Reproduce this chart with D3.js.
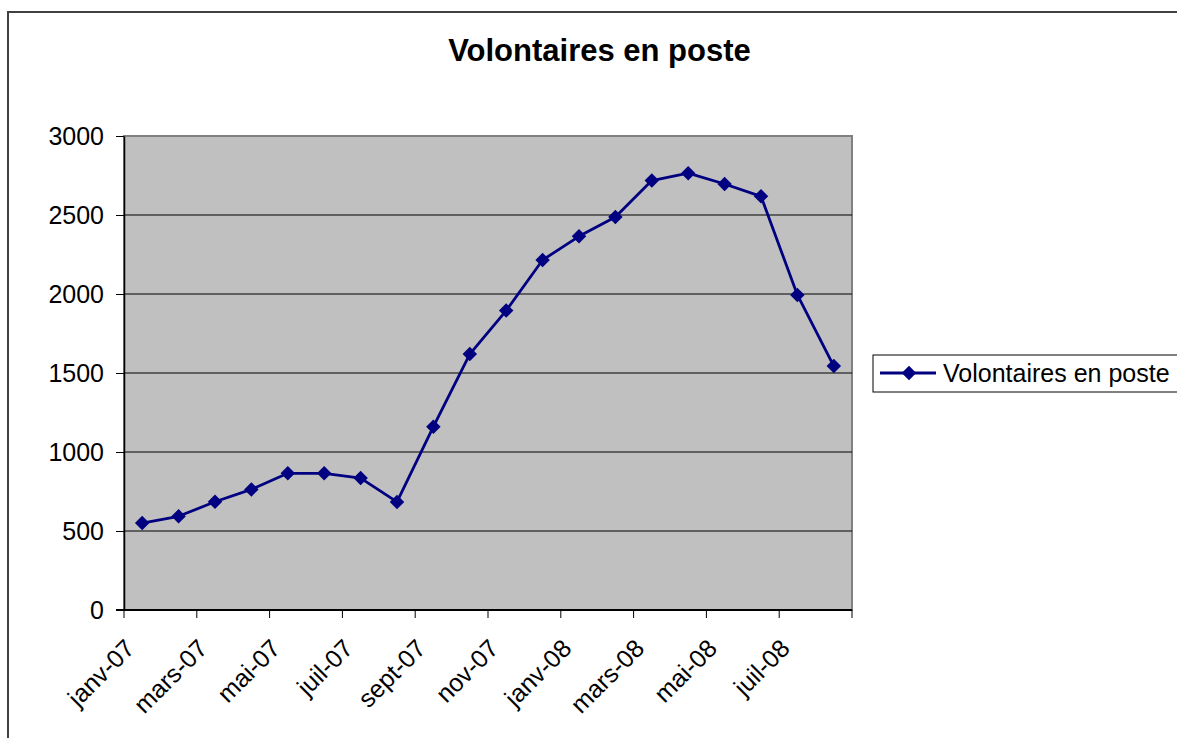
<!DOCTYPE html>
<html>
<head>
<meta charset="utf-8">
<script src="https://cdn.jsdelivr.net/npm/d3@7"></script>
<style>
  html, body { margin: 0; padding: 0; background: #fff; }
  svg { display: block; font-family: "Liberation Sans", Arial, sans-serif; }
</style>
</head>
<body>
<svg id="chart" width="1177" height="738"></svg>
<script>
const categories = ["janv-07","févr-07","mars-07","avr-07","mai-07","juin-07","juil-07","août-07","sept-07","oct-07","nov-07","déc-07","janv-08","févr-08","mars-08","avr-08","mai-08","juin-08","juil-08","août-08"];
const values = [550, 593, 685, 763, 865, 865, 835, 684, 1160, 1620, 1895, 2215, 2365, 2488, 2718, 2765, 2696, 2618, 1994, 1544];
const yTicks = [0, 500, 1000, 1500, 2000, 2500, 3000];
const seriesName = "Volontaires en poste";
const titleText = "Volontaires en poste";

const svg = d3.select("#chart");
const W = 1177, H = 738;
const plot = { left: 124, right: 852, top: 136, bottom: 610 };
const navy = "#000080";
const FONT = "Liberation Sans, Arial, sans-serif";

svg.append("rect").attr("x", 0).attr("y", 0).attr("width", W).attr("height", H).attr("fill", "#fff");
svg.append("rect").attr("x", 8).attr("y", 12).attr("width", 1300).attr("height", 900)
  .attr("fill", "none").attr("stroke", "#404040").attr("stroke-width", 2);

const x = d3.scaleBand().domain(categories).range([plot.left, plot.right]).padding(0);
const y = d3.scaleLinear().domain([0, 3000]).range([plot.bottom, plot.top]);

svg.append("rect").attr("x", plot.left).attr("y", plot.top)
  .attr("width", plot.right - plot.left).attr("height", plot.bottom - plot.top)
  .attr("fill", "#C0C0C0").attr("stroke", "#808080").attr("stroke-width", 2);

svg.append("g").selectAll("line").data(yTicks.filter(d => d > 0 && d < 3000)).join("line")
  .attr("x1", plot.left).attr("x2", plot.right)
  .attr("y1", d => y(d)).attr("y2", d => y(d))
  .attr("stroke", "#000").attr("stroke-width", 1);

const yAxis = svg.append("g").attr("transform", `translate(${plot.left},0)`)
  .call(d3.axisLeft(y).tickValues(yTicks).tickFormat(d3.format("d")).tickSize(8).tickPadding(12).tickSizeOuter(0));
yAxis.select(".domain").attr("stroke", "#000").attr("stroke-width", 1.5);
yAxis.selectAll(".tick line").attr("stroke", "#000");
yAxis.selectAll(".tick text").attr("font-size", 25).attr("font-family", FONT).attr("fill", "#000");

svg.append("line").attr("x1", plot.left - 8).attr("x2", plot.right)
  .attr("y1", plot.bottom).attr("y2", plot.bottom).attr("stroke", "#000").attr("stroke-width", 2);

const tickCats = categories.filter((d, i) => i % 2 === 0);
const tickXs = tickCats.map(c => x(c)).concat([x.range()[1]]);
svg.append("g").selectAll("line").data(tickXs).join("line")
  .attr("x1", d => d).attr("x2", d => d)
  .attr("y1", plot.bottom).attr("y2", plot.bottom + 8)
  .attr("stroke", "#000").attr("stroke-width", 1);

svg.append("g").selectAll("text").data(tickCats).join("text")
  .attr("transform", d => `translate(${x(d) + x.bandwidth() / 2 - 6},${650}) rotate(-45)`)
  .attr("text-anchor", "end")
  .attr("font-size", 25).attr("font-family", FONT).attr("fill", "#000")
  .text(d => d);

const line = d3.line().x((d, i) => x(categories[i]) + x.bandwidth() / 2).y(d => y(d));
svg.append("path").datum(values).attr("d", line)
  .attr("fill", "none").attr("stroke", navy).attr("stroke-width", 2.8).attr("stroke-linejoin", "round");

svg.append("g").selectAll("path").data(values).join("path")
  .attr("transform", (d, i) => `translate(${x(categories[i]) + x.bandwidth() / 2},${y(d)}) rotate(45)`)
  .attr("d", d3.symbol().type(d3.symbolSquare).size(105))
  .attr("fill", navy);

svg.append("text").attr("x", 599.5).attr("y", 61).attr("text-anchor", "middle")
  .attr("font-size", 31).attr("font-weight", "bold").attr("font-family", FONT).attr("fill", "#000").text(titleText);

const lg = svg.append("g");
lg.append("rect").attr("x", 873).attr("y", 355).attr("width", 400).attr("height", 37)
  .attr("fill", "#fff").attr("stroke", "#000").attr("stroke-width", 1);
lg.append("line").attr("x1", 880).attr("x2", 936).attr("y1", 373).attr("y2", 373)
  .attr("stroke", navy).attr("stroke-width", 2.8);
lg.append("path").attr("transform", "translate(909,373) rotate(45)")
  .attr("d", d3.symbol().type(d3.symbolSquare).size(105)).attr("fill", navy);
lg.append("text").attr("x", 943).attr("y", 382).attr("font-size", 25).attr("font-family", FONT).attr("fill", "#000").text(seriesName);
</script>
</body>
</html>
